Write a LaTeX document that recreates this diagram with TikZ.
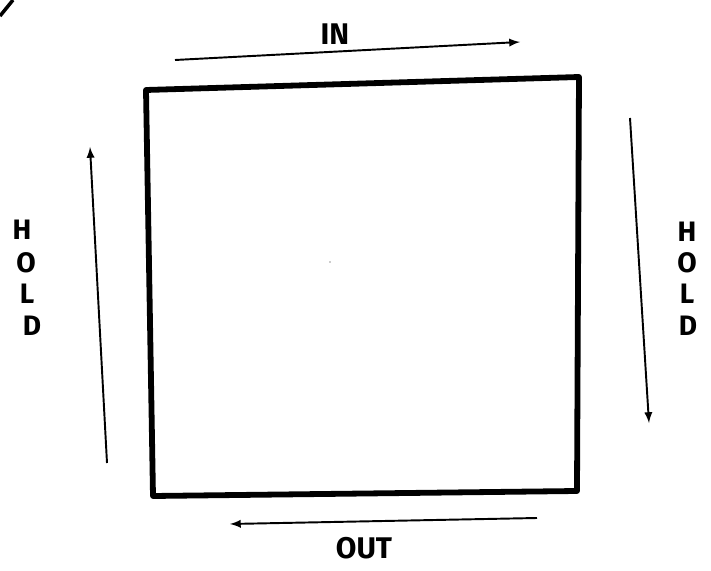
\documentclass[tikz,border=0pt]{standalone}
\usepackage{fontspec}
\setmainfont{Fira Sans}
\usetikzlibrary{arrows}

\tikzset{
    hand/.style={font=\fontsize{17}{17}\selectfont\bfseries},
    letter/.style={font=\fontsize{16}{16}\selectfont\bfseries, inner sep=1pt},
    flow/.style={-latex, line width=1.1pt}
}

\begin{document}
\begin{tikzpicture}[x=0.02cm, y=-0.02cm]
    \useasboundingbox (0, 0) rectangle (711, 571);
    % the square
    \coordinate (tl) at (146, 90);
    \coordinate (tr) at (579, 77);
    \coordinate (br) at (577, 491);
    \coordinate (bl) at (153, 496);
    \draw[line width=3.3pt, line join=round] (tl) -- (tr) -- (br) -- (bl) -- cycle;
    \node[circle, fill=black!40, inner sep=0.3pt] (dot) at (330, 262) {};
    % corner mark
    \coordinate (m1) at (0, 16);
    \coordinate (m2) at (13, 0);
    \draw[line width=2pt] (m1) -- (m2);
    % top
    \coordinate (ina) at (175, 60);
    \coordinate (inb) at (520, 42);
    \draw[flow] (ina) -- (inb);
    \node[hand] (in) at (335, 34) {IN};
    % right
    \coordinate (rha) at (630, 118);
    \coordinate (rhb) at (649, 423);
    \draw[flow] (rha) -- (rhb);
    \node[letter] (rh1) at (687, 232) {H};
    \node[letter] (rh2) at (687, 263) {O};
    \node[letter] (rh3) at (687, 294) {L};
    \node[letter] (rh4) at (688, 326) {D};
    % bottom
    \coordinate (outa) at (537, 518);
    \coordinate (outb) at (230, 524);
    \draw[flow] (outa) -- (outb);
    \node[hand] (out) at (364, 548) {OUT};
    % left
    \coordinate (lha) at (107, 463);
    \coordinate (lhb) at (90, 147);
    \draw[flow] (lha) -- (lhb);
    \node[letter] (lh1) at (22, 230) {H};
    \node[letter] (lh2) at (26, 263) {O};
    \node[letter] (lh3) at (27, 294) {L};
    \node[letter] (lh4) at (32, 326) {D};
\end{tikzpicture}
\end{document}
